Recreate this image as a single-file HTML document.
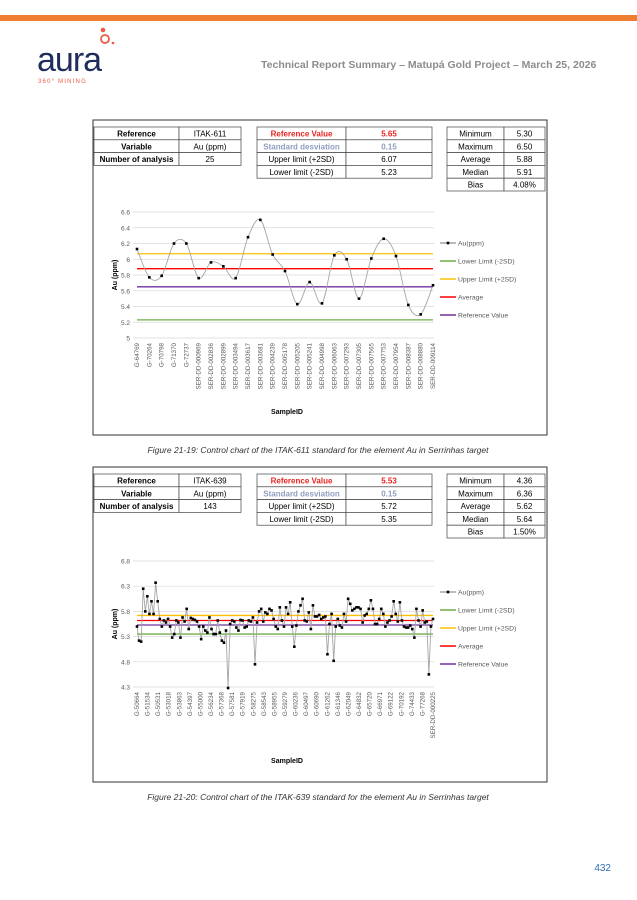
<!DOCTYPE html>
<html><head><meta charset="utf-8"><style>
body{margin:0;background:#fff;width:637px;height:900px;overflow:hidden;font-family:"Liberation Sans",sans-serif}
svg{position:absolute;left:0;top:0}
</style></head><body>
<svg id="pg" width="637" height="900" viewBox="0 0 637 900" font-family="Liberation Sans, sans-serif">
<rect x="0" y="15" width="637" height="6" fill="#ef7d32"/>
<g>
<text x="37" y="71" font-size="34" fill="#1f2d5c" letter-spacing="-1">aura</text>
<circle cx="103" cy="30" r="2.3" fill="#ee5a45"/>
<circle cx="105" cy="39" r="4" fill="none" stroke="#ee5a45" stroke-width="1.8"/>
<circle cx="113" cy="43" r="1.3" fill="#ee5a45"/>
<text x="38" y="83" font-size="6" fill="#ee5a45" letter-spacing="1.2">360° MINING</text>
</g>
<text x="261" y="68" font-size="10.5" font-weight="bold" fill="#8c8c8c">Technical Report Summary – Matupá Gold Project – March 25, 2026</text>
<g id="c1"></g>
<g id="c2"></g>
<text x="318" y="453" font-size="8.5" font-style="italic" fill="#333" text-anchor="middle">Figure 21-19: Control chart of the ITAK-611 standard for the element Au in Serrinhas target</text>
<text x="318" y="800" font-size="8.5" font-style="italic" fill="#333" text-anchor="middle">Figure 21-20: Control chart of the ITAK-639 standard for the element Au in Serrinhas target</text>
<text x="611" y="871" font-size="10" fill="#2e6fb4" text-anchor="end">432</text>
</svg>
<script>
const NS="http://www.w3.org/2000/svg";
// ---- Chart 1 data ----
const c1Categories=["G-64769","G-70264","G-70798","G-71370","G-72737","SER-DD-000969","SER-DD-002836","SER-DD-002899","SER-DD-003494","SER-DD-003617","SER-DD-003681","SER-DD-004239","SER-DD-005178","SER-DD-005205","SER-DD-005241","SER-DD-004998","SER-DD-006063","SER-DD-007293","SER-DD-007305","SER-DD-007565","SER-DD-007753","SER-DD-007954","SER-DD-008387","SER-DD-008880","SER-DD-009114"];
const c1Values=[6.13,5.77,5.79,6.20,6.20,5.76,5.96,5.91,5.76,6.28,6.50,6.06,5.85,5.43,5.71,5.44,6.05,6.00,5.50,6.01,6.26,6.04,5.42,5.30,5.67];
const c1Ticks=[5,5.2,5.4,5.6,5.8,6,6.2,6.4,6.6];
const c1Limits=[6.07,5.88,5.65,5.23]; // upper, average, reference, lower
const c1Table=[["ITAK-611","Au (ppm)","25"],["5.65","0.15","6.07","5.23"],["5.30","6.50","5.88","5.91","4.08%"]];
// ---- Chart 2 data ----
const c2Categories=["G-50664","G-51534","G-50531","G-53018","G-53863","G-54397","G-55000","G-56234","G-57368","G-57581","G-57919","G-58275","G-58543","G-58955","G-59279","G-60236","G-60497","G-60690","G-61262","G-61346","G-62049","G-64832","G-65720","G-66971","G-69122","G-70192","G-74433","G-77268","SER-DD-000225"];
const c2Values=[5.50,5.22,5.20,6.25,5.80,6.10,5.75,6.00,5.75,6.37,6.00,5.65,5.50,5.62,5.58,5.65,5.50,5.28,5.35,5.62,5.58,5.28,5.68,5.60,5.85,5.45,5.67,5.65,5.63,5.60,5.50,5.25,5.50,5.42,5.38,5.68,5.45,5.35,5.35,5.62,5.38,5.22,5.18,5.42,4.28,5.55,5.62,5.60,5.48,5.42,5.63,5.62,5.48,5.50,5.62,5.60,5.68,4.75,5.58,5.80,5.85,5.60,5.78,5.75,5.85,5.82,5.65,5.50,5.45,5.88,5.62,5.50,5.88,5.75,5.98,5.50,5.10,5.52,5.80,5.92,6.05,5.62,5.60,5.78,5.45,5.92,5.70,5.70,5.73,5.65,5.68,5.70,4.95,5.55,5.75,4.82,5.50,5.65,5.52,5.48,5.75,5.60,6.05,5.95,5.82,5.85,5.88,5.88,5.85,5.58,5.72,5.75,5.85,6.02,5.85,5.55,5.55,5.65,5.85,5.75,5.50,5.58,5.62,5.70,6.00,5.75,5.60,5.98,5.62,5.50,5.48,5.48,5.52,5.45,5.28,5.85,5.62,5.50,5.82,5.58,5.60,4.55,5.50,5.65];
const c2Ticks=[4.3,4.8,5.3,5.8,6.3,6.8];
const c2Limits=[5.72,5.62,5.53,5.35];
const c2Table=[["ITAK-639","Au (ppm)","143"],["5.53","0.15","5.72","5.35"],["4.36","6.36","5.62","5.64","1.50%"]];

function el(p,t,a,txt){const e=document.createElementNS(NS,t);for(const k in a)e.setAttribute(k,a[k]);if(txt!==undefined)e.textContent=txt;p.appendChild(e);return e;}

function table(g,oy,tb){
  const rowsL=[["Reference",tb[0][0]],["Variable",tb[0][1]],["Number of analysis",tb[0][2]]];
  const rowsM=[["Reference Value",tb[1][0],"#e8231f",true],["Standard desviation",tb[1][1],"#8e9ec0",true],["Upper limit (+2SD)",tb[1][2],"#000",false],["Lower limit (-2SD)",tb[1][3],"#000",false]];
  const rowsR=[["Minimum",tb[2][0]],["Maximum",tb[2][1]],["Average",tb[2][2]],["Median",tb[2][3]],["Bias",tb[2][4]]];
  const h=12.8;
  const t1=el(g,"g",{});
  
  
  rowsL.forEach((r,i)=>{const y=oy+i*h;
    el(t1,"rect",{x:94,y:y,width:85,height:h,fill:"#fff",stroke:"#444","stroke-width":0.7});
    el(t1,"rect",{x:179,y:y,width:62,height:h,fill:"#fff",stroke:"#444","stroke-width":0.7});
    el(t1,"text",{x:136.5,y:y+9.5,"font-size":8,"font-weight":"bold","text-anchor":"middle"},r[0]);
    el(t1,"text",{x:210,y:y+9.5,"font-size":8,"text-anchor":"middle"},r[1]);});
  const t2=el(g,"g",{});
  
  
  rowsM.forEach((r,i)=>{const y=oy+i*h;
    el(t2,"rect",{x:257,y:y,width:89,height:h,fill:"#fff",stroke:"#444","stroke-width":0.7});
    el(t2,"rect",{x:346,y:y,width:86,height:h,fill:"#fff",stroke:"#444","stroke-width":0.7});
    el(t2,"text",{x:301.5,y:y+9.5,"font-size":8,"font-weight":r[3]?"bold":"normal",fill:r[2],"text-anchor":"middle"},r[0]);
    el(t2,"text",{x:389,y:y+9.5,"font-size":8,"font-weight":r[3]?"bold":"normal",fill:r[2],"text-anchor":"middle"},r[1]);});
  const t3=el(g,"g",{});
  
  
  rowsR.forEach((r,i)=>{const y=oy+i*h;
    el(t3,"rect",{x:447,y:y,width:57,height:h,fill:"#fff",stroke:"#444","stroke-width":0.7});
    el(t3,"rect",{x:504,y:y,width:41,height:h,fill:"#fff",stroke:"#444","stroke-width":0.7});
    el(t3,"text",{x:475.5,y:y+9.5,"font-size":8,"text-anchor":"middle"},r[0]);
    el(t3,"text",{x:524.5,y:y+9.5,"font-size":8,"text-anchor":"middle"},r[1]);});
}

function chart(gid,cfg){
  const g=document.getElementById(gid);
  el(g,"rect",{x:cfg.fx,y:cfg.fy,width:454,height:315,fill:"#fff",stroke:"#333","stroke-width":1});
  table(g,cfg.fy+7,cfg.table);
  const x0=137,x1=433;
  const vmin=cfg.ticks[0],vmax=cfg.ticks[cfg.ticks.length-1];
  const yS=v=>cfg.yb-(v-vmin)/(vmax-vmin)*(cfg.yb-cfg.yt);
  const n=cfg.values.length;
  const xS=i=>x0+i*(x1-x0)/(n-1);
  cfg.ticks.forEach(t=>{
    const gl=el(g,"line",{x1:133,x2:434,y1:yS(t),y2:yS(t),stroke:"#d9d9d9","stroke-width":0.7});
    
    
    const tl=el(g,"text",{x:130,y:yS(t)+2.5,"font-size":6.5,fill:"#595959","text-anchor":"end"},String(t));
    
    
  });
  const yt=el(g,"text",{x:0,y:0,"font-size":7,"font-weight":"bold",transform:`translate(${cfg.ytx},${(cfg.yt+cfg.yb)/2}) rotate(-90)`,"text-anchor":"middle"},"Au (ppm)");
  
  
  const xt=el(g,"text",{x:287,y:cfg.xty,"font-size":7,"font-weight":"bold","text-anchor":"middle"},"SampleID");
  
  
  // category labels
  const m=cfg.cats.length;
  cfg.cats.forEach((c,i)=>{const x=x0+i*(x1-x0)/(m-1)+2;
    const t=el(g,"text",{x:0,y:0,"font-size":6.2,fill:"#595959","text-anchor":"end",transform:`translate(${x},${cfg.yb+5}) rotate(-90)`},c);
    
    });
  // limit lines
  const cols=["#ffc000","#ff0000","#7030a0","#70ad47"];
  const names=["upper-limit-line","average-line","reference-value-line","lower-limit-line"];
  cfg.limits.forEach((v,i)=>{const l=el(g,"line",{x1:137,x2:433,y1:yS(v),y2:yS(v),stroke:cols[i],"stroke-width":1.3});
    
    });
  // series
  const pts=cfg.values.map((v,i)=>[xS(i),yS(v)]);
  let d="M"+pts[0][0]+","+pts[0][1];
  if(cfg.smooth){for(let i=0;i<n-1;i++){const p0=pts[Math.max(i-1,0)],p1=pts[i],p2=pts[i+1],p3=pts[Math.min(i+2,n-1)];
    d+=` C${p1[0]+(p2[0]-p0[0])/6},${p1[1]+(p2[1]-p0[1])/6} ${p2[0]-(p3[0]-p1[0])/6},${p2[1]-(p3[1]-p1[1])/6} ${p2[0]},${p2[1]}`;}}
  else pts.slice(1).forEach(p=>d+=` L${p[0]},${p[1]}`);
  const ln=el(g,"path",{d:d,fill:"none",stroke:"#a6a6a6","stroke-width":0.9});
  
  
  pts.forEach(p=>{const r=el(g,"rect",{x:p[0]-1.3,y:p[1]-1.3,width:2.6,height:2.6,fill:"#000"});
    
    });
  // legend
  const lg=[["Au(ppm)","#000"],["Lower Limit (-2SD)","#70ad47"],["Upper Limit (+2SD)","#ffc000"],["Average","#ff0000"],["Reference Value","#7030a0"]];
  lg.forEach((e,i)=>{const y=cfg.ly+i*cfg.ld;
    const gg=el(g,"g",{});
    
    
    el(gg,"line",{x1:440,x2:456,y1:y,y2:y,stroke:i==0?"#595959":e[1],"stroke-width":i==0?0.8:1.5});
    if(i==0)el(gg,"rect",{x:446.7,y:y-1.3,width:2.6,height:2.6,fill:"#000"});
    el(gg,"text",{x:458,y:y+2.5,"font-size":6.8,fill:"#595959"},e[0]);});
}
chart("c1",{fx:93,fy:120,table:c1Table,values:c1Values,cats:c1Categories,ticks:c1Ticks,limits:c1Limits,yt:212,yb:338,ytx:117,xty:414,smooth:true,ly:243,ld:18});
chart("c2",{fx:93,fy:467,table:c2Table,values:c2Values,cats:c2Categories,ticks:c2Ticks,limits:c2Limits,yt:561,yb:687,ytx:117,xty:763,smooth:false,ly:592,ld:18});
</script>
</body></html>
